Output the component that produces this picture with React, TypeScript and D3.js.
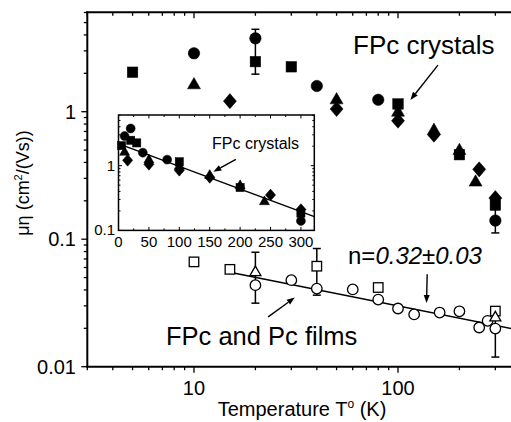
import React from "react";
import * as d3 from "d3";

// ---------- data ----------
// FPc crystals (filled symbols)
const crystCircleT = [10, 20, 40, 80, 300];
const crystCircleMu = [2.87, 3.76, 1.59, 1.24, 0.14];
const crystSquareT = [5, 20, 30, 100, 200, 300];
const crystSquareMu = [2.04, 2.47, 2.25, 1.15, 0.46, 0.185];
const crystTriT = [10, 50, 100, 150, 200, 240];
const crystTriMu = [1.64, 1.25, 1.0, 0.72, 0.5, 0.283];
const crystDiaT = [15, 50, 100, 150, 250, 300];
const crystDiaMu = [1.21, 1.05, 0.85, 0.66, 0.353, 0.21];
const crystErrT = [20, 300];
const crystErrLo = [1.97, 0.112];
const crystErrHi = [4.43, 0.19];

// FPc and Pc films (open symbols)
const filmCircleT = [20, 30, 40, 60, 80, 100, 120, 160, 200, 250, 275, 300];
const filmCircleMu = [0.0436, 0.0477, 0.041, 0.0404, 0.0336, 0.0286, 0.0257, 0.0266, 0.0272, 0.0203, 0.0229, 0.0199];
const filmSquareT = [10, 15, 40, 80, 300];
const filmSquareMu = [0.0664, 0.058, 0.0614, 0.0418, 0.0273];
const filmTriT = [20, 300];
const filmTriMu = [0.0555, 0.0245];
const filmErrT = [20, 40, 300];
const filmErrLo = [0.0315, 0.0364, 0.0119];
const filmErrHi = [0.079, 0.0845, 0.026];

// fits
const filmFitT = [15, 360];
const filmFitMu = [0.055, 0.0199];
const insetFitT = [5, 322];
const insetFitMu = [2.1, 0.163];

// tick labels
const xMainTickLabels = [10, 100];
const yMainTickLabels = [0.01, 0.1, 1];
const xInsetTickLabels = [0, 50, 100, 150, 200, 250, 300];
const yInsetTickLabels = [0.1, 1];

// annotation arrows [T0, mu0, T1, mu1] (tip at T1, mu1)
const arrowCrystMain = [157, 2.32, 115, 1.235];
const arrowFilms = [23.1, 0.0246, 31.2, 0.0349];
const arrowN = [139, 0.0531, 138, 0.0316];
const arrowInset = [193, 1.256, 156, 0.808];

// ---------- layout ----------
const W = 511;
const H = 422;
const FONT = "'Liberation Sans', Arial, Helvetica, sans-serif";

const xMain = d3.scaleLog().domain([3, 360]).range([87.3, 511.5]);
const yMain = d3.scaleLog().domain([0.01, 6.02]).range([366.7, 12.3]);
const xIn = d3.scaleLinear().domain([0, 322]).range([118.5, 314.3]);
const yIn = d3.scaleLog().domain([0.1, 6.07]).range([230.4, 115]);

const zip = (a: number[], b: number[]) => a.map((v, i) => [v, b[i]]);

type Sc = (v: number) => number;

function Marker({ kind, x, y, s, open }: { kind: string; x: number; y: number; s: number; open?: boolean }) {
  const fill = open ? "white" : "black";
  const stroke = "black";
  const sw = open ? 1.3 : 0.5;
  if (kind === "circle") return <circle cx={x} cy={y} r={s / 2} fill={fill} stroke={stroke} strokeWidth={sw} />;
  if (kind === "square")
    return <rect x={x - s / 2} y={y - s / 2} width={s} height={s} fill={fill} stroke={stroke} strokeWidth={sw} />;
  if (kind === "tri") {
    const h = s * 0.87;
    const p = `M${x},${y - h * 0.6}L${x + s / 2},${y + h * 0.4}L${x - s / 2},${y + h * 0.4}Z`;
    return <path d={p} fill={fill} stroke={stroke} strokeWidth={sw} />;
  }
  // diamond
  const hw = s * 0.5;
  const hh = s * 0.58;
  const p = `M${x},${y - hh}L${x + hw},${y}L${x},${y + hh}L${x - hw},${y}Z`;
  return <path d={p} fill={fill} stroke={stroke} strokeWidth={sw} />;
}

function ErrBars({ T, lo, hi, xs, ys, cap, sw }: { T: number[]; lo: number[]; hi: number[]; xs: Sc; ys: Sc; cap: number; sw: number }) {
  return (
    <g stroke="black" strokeWidth={sw}>
      {T.map((t, i) => {
        const x = xs(t);
        return (
          <g key={i}>
            <line x1={x} x2={x} y1={ys(lo[i])} y2={ys(hi[i])} />
            <line x1={x - cap} x2={x + cap} y1={ys(lo[i])} y2={ys(lo[i])} />
            <line x1={x - cap} x2={x + cap} y1={ys(hi[i])} y2={ys(hi[i])} />
          </g>
        );
      })}
    </g>
  );
}

function Arrow({ a, xs, ys }: { a: number[]; xs: Sc; ys: Sc }) {
  const x0 = xs(a[0]), y0 = ys(a[1]), x1 = xs(a[2]), y1 = ys(a[3]);
  const ang = Math.atan2(y1 - y0, x1 - x0);
  const L = 8, Wd = 3;
  const bx = x1 - L * Math.cos(ang), by = y1 - L * Math.sin(ang);
  const px = -Math.sin(ang) * Wd, py = Math.cos(ang) * Wd;
  return (
    <g>
      <line x1={x0} y1={y0} x2={bx} y2={by} stroke="black" strokeWidth={1.4} />
      <path d={`M${x1},${y1}L${bx + px},${by + py}L${bx - px},${by - py}Z`} fill="black" />
    </g>
  );
}

function crystalMarks(xs: Sc, ys: Sc, scale: number) {
  return (
    <g>
      {zip(crystSquareT, crystSquareMu).map(([t, m], i) => (
        <Marker key={"s" + i} kind="square" x={xs(t)} y={ys(m)} s={10.5 * scale} />
      ))}
      {zip(crystTriT, crystTriMu).map(([t, m], i) => (
        <Marker key={"t" + i} kind="tri" x={xs(t)} y={ys(m)} s={13 * scale} />
      ))}
      {zip(crystDiaT, crystDiaMu).map(([t, m], i) => (
        <Marker key={"d" + i} kind="diamond" x={xs(t)} y={ys(m)} s={13 * scale} />
      ))}
      {zip(crystCircleT, crystCircleMu).map(([t, m], i) => (
        <Marker key={"c" + i} kind="circle" x={xs(t)} y={ys(m)} s={11.5 * scale} />
      ))}
    </g>
  );
}

export default function App() {
  const left = xMain.range()[0];
  const bottom = yMain.range()[0];
  const top = yMain.range()[1];
  const right = W + 2;
  const xTicks = xMain.ticks().filter((t) => t >= 3 && t <= 360);
  const yTicks = yMain.ticks().filter((t) => t >= 0.01 && t <= 6.02);
  const isMajor = (v: number) => Math.abs(Math.log10(v) - Math.round(Math.log10(v))) < 1e-6;

  const filmLine = d3.line<number[]>().x((d) => xMain(d[0])).y((d) => yMain(d[1]))(zip(filmFitT, filmFitMu));
  const insetLine = d3.line<number[]>().x((d) => xIn(d[0])).y((d) => yIn(d[1]))(zip(insetFitT, insetFitMu));

  const [il, ir] = xIn.range();
  const [ib, it] = yIn.range();
  const xInTicks = d3.range(0, 322, 25);
  const yInTicks = yIn.ticks().filter((t) => t >= 0.1 && t <= 6.07);

  return (
    <div style={{ position: "fixed", left: 0, top: 0 }}>
      <svg width={W} height={H} style={{ display: "block", background: "white" }} fontFamily={FONT}>
        <rect width={W} height={H} fill="white" />
        {/* main films fit */}
        <path d={filmLine || ""} fill="none" stroke="black" strokeWidth={1.4} />

        {/* error bars */}
        <ErrBars T={crystErrT} lo={crystErrLo} hi={crystErrHi} xs={xMain} ys={yMain} cap={4} sw={1.5} />
        <ErrBars T={filmErrT} lo={filmErrLo} hi={filmErrHi} xs={xMain} ys={yMain} cap={4} sw={1.5} />

        {/* crystals */}
        {crystalMarks(xMain, yMain, 1)}

        {/* films */}
        {zip(filmSquareT, filmSquareMu).map(([t, m], i) => (
          <Marker key={"fs" + i} kind="square" x={xMain(t)} y={yMain(m)} s={9.5} open />
        ))}
        {zip(filmCircleT, filmCircleMu).map(([t, m], i) => (
          <Marker key={"fc" + i} kind="circle" x={xMain(t)} y={yMain(m)} s={10.5} open />
        ))}
        {zip(filmTriT, filmTriMu).map(([t, m], i) => (
          <Marker key={"ft" + i} kind="tri" x={xMain(t)} y={yMain(m)} s={11} open />
        ))}

        {/* main axes */}
        <g stroke="black" strokeWidth={2} fill="none">
          <line x1={left} x2={left} y1={top - 1} y2={bottom + 1} />
          <line x1={left - 1} x2={right} y1={bottom} y2={bottom} />
          <line x1={left - 1} x2={right} y1={top} y2={top} />
        </g>
        <g stroke="black" strokeWidth={1.3}>
          {xTicks.map((t, i) => {
            const L = isMajor(t) ? 6 : 3.5;
            const x = xMain(t);
            return (
              <g key={i}>
                <line x1={x} x2={x} y1={bottom} y2={bottom + L} />
                <line x1={x} x2={x} y1={top} y2={top + L} />
              </g>
            );
          })}
          {yTicks.map((t, i) => {
            const L = isMajor(t) ? 6 : 3.5;
            const y = yMain(t);
            return <line key={i} x1={left - L} x2={left} y1={y} y2={y} />;
          })}
        </g>
        <g fontSize={20} fill="black">
          {xMainTickLabels.map((t) => (
            <text key={t} x={xMain(t)} y={395} textAnchor="middle">
              {t}
            </text>
          ))}
          {yMainTickLabels.map((t) => (
            <text key={t} x={76} y={yMain(t) + 7} textAnchor="end">
              {t}
            </text>
          ))}
        </g>
        <text x={302} y={416} fontSize={20} textAnchor="middle">
          Temperature T<tspan dy={-8} fontSize={12}>o</tspan>
          <tspan dy={8}> (K)</tspan>
        </text>
        <text transform="translate(29,183) rotate(-90)" fontSize={18} textAnchor="middle">
          μη (cm<tspan dy={-7} fontSize={11}>2</tspan>
          <tspan dy={7}>/(Vs))</tspan>
        </text>

        {/* annotations main */}
        <text x={353} y={53.5} fontSize={26}>FPc crystals</text>
        <Arrow a={arrowCrystMain} xs={xMain} ys={yMain} />
        <text x={348} y={263.5} fontSize={24}>
          n=<tspan fontStyle="italic">0.32±0.03</tspan>
        </text>
        <Arrow a={arrowN} xs={xMain} ys={yMain} />
        <text x={166} y={345} fontSize={25.5}>FPc and Pc films</text>
        <Arrow a={arrowFilms} xs={xMain} ys={yMain} />

        {/* inset */}
        <rect x={il} y={it} width={ir - il} height={ib - it} fill="white" stroke="black" strokeWidth={1.5} />
        <path d={insetLine || ""} fill="none" stroke="black" strokeWidth={1.4} />
        {crystalMarks(xIn, yIn, 0.78)}
        <g stroke="black" strokeWidth={1}>
          {xInTicks.map((t, i) => {
            const L = t % 50 === 0 ? 3.5 : 2;
            const x = xIn(t);
            return (
              <g key={i}>
                <line x1={x} x2={x} y1={ib} y2={ib - L} />
                <line x1={x} x2={x} y1={it} y2={it + L} />
              </g>
            );
          })}
          {yInTicks.map((t, i) => {
            const L = isMajor(t) ? 3.5 : 2;
            const y = yIn(t);
            return (
              <g key={i}>
                <line x1={il} x2={il + L} y1={y} y2={y} />
                <line x1={ir} x2={ir - L} y1={y} y2={y} />
              </g>
            );
          })}
        </g>
        <g fontSize={15} fill="black">
          {xInsetTickLabels.map((t) => (
            <text key={t} x={xIn(t)} y={247} textAnchor="middle">
              {t}
            </text>
          ))}
          {yInsetTickLabels.map((t) => (
            <text key={t} x={115} y={yIn(t) + 5} textAnchor="end">
              {t}
            </text>
          ))}
        </g>
        <text x={212} y={149} fontSize={16}>FPc crystals</text>
        <Arrow a={arrowInset} xs={xIn} ys={yIn} />
      </svg>
    </div>
  );
}
